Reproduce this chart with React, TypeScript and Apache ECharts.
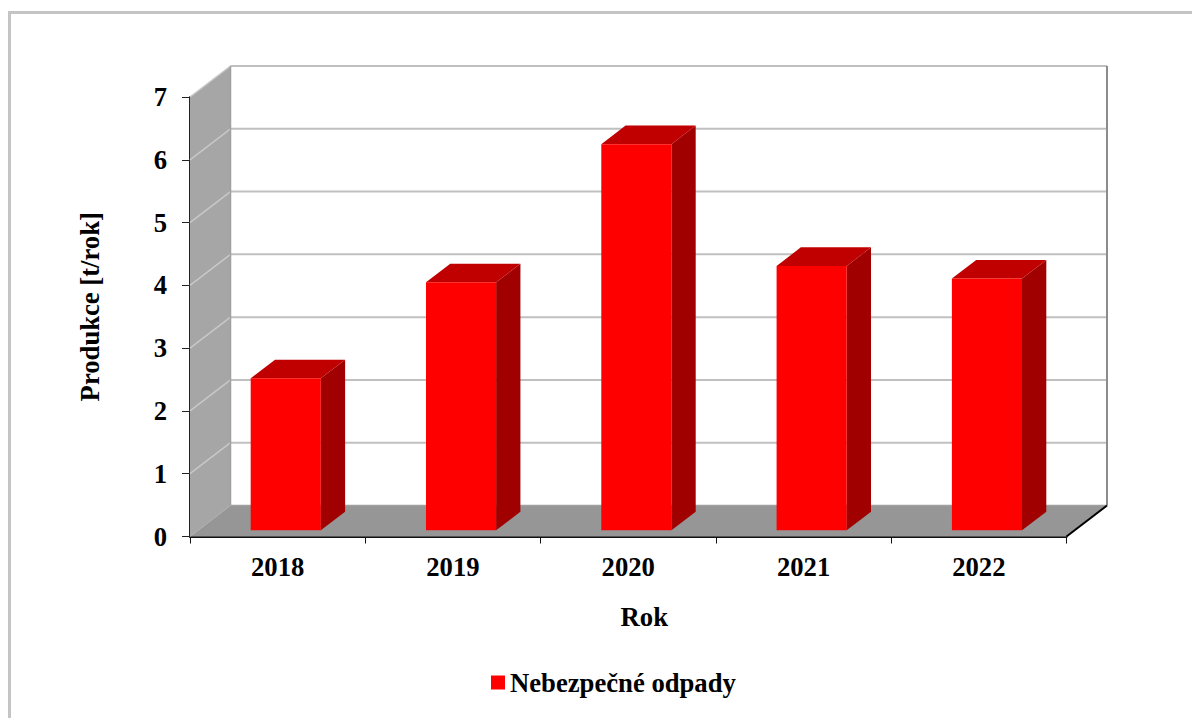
import React, { useEffect, useRef } from "react";
import * as echarts from "echarts";

const categories = ["2018", "2019", "2020", "2021", "2022"];
const seriesName = "Nebezpečné odpady";
const values = [2.42, 3.95, 6.15, 4.21, 4.01];
const yTicks = [1, 2, 3, 4, 5, 6, 7];
const wallDepth = { dx: 40.5, dy: -31 };
const FONT = "'Liberation Serif', 'Times New Roman', serif";
const SIZE = 26.67;

export default function App() {
  const ref = useRef<HTMLDivElement>(null);
  useEffect(() => {
    const chart = echarts.init(ref.current!, null, { renderer: "svg" });
    const poly = (points: number[][], fill: string, z2 = 0) => ({
      type: "polygon",
      z2,
      shape: { points },
      style: { fill, stroke: "none" },
    });
    const seg = (a: number[], b: number[], stroke: string, lineWidth: number, z2 = 1) => ({
      type: "line",
      z2,
      shape: { x1: a[0], y1: a[1], x2: b[0], y2: b[1] },
      style: { stroke, lineWidth, fill: "none" },
    });
    const { dx, dy } = wallDepth;
    chart.setOption({
      animation: false,
      backgroundColor: "#ffffff",
      graphic: [
        { type: "rect", silent: true, shape: { x: 8, y: 11, width: 1184, height: 3 }, style: { fill: "#c4c4c4" } },
        { type: "rect", silent: true, shape: { x: 8, y: 11, width: 3, height: 707 }, style: { fill: "#c4c4c4" } },
      ],
      grid: { left: 190, right: 125.5, top: 97, bottom: 181.5, containLabel: false },
      legend: {
        left: 486,
        top: 664,
        itemWidth: 14,
        itemHeight: 14,
        itemGap: 5,
        data: [{ name: seriesName, icon: "rect", itemStyle: { color: "#ff0000" } }],
        textStyle: { fontFamily: FONT, fontWeight: "bold", fontSize: SIZE, color: "#000", padding: [0, 0, 0, 0] },
      },
      xAxis: {
        type: "category",
        data: categories,
        name: "Rok",
        nameLocation: "middle",
        nameGap: 67,
        nameTextStyle: { fontFamily: FONT, fontWeight: "bold", fontSize: SIZE, color: "#000", padding: [0, 0, 0, 32] },
        axisLine: { lineStyle: { color: "#111", width: 2 } },
        axisTick: { show: true, alignWithLabel: false, length: 7, lineStyle: { color: "#111", width: 1 } },
        axisLabel: { fontFamily: FONT, fontWeight: "bold", fontSize: SIZE, color: "#000", margin: 17 },
        splitLine: { show: false },
      },
      yAxis: {
        type: "value",
        min: 0,
        max: 7,
        interval: 1,
        name: "Produkce [t/rok]",
        nameLocation: "middle",
        nameGap: 87,
        nameRotate: 90,
        nameTextStyle: { fontFamily: FONT, fontWeight: "bold", fontSize: SIZE, color: "#000", padding: [0, 0, 0, 20] },
        axisLine: { show: true, lineStyle: { color: "#222", width: 2 } },
        axisTick: { show: true, length: 8, lineStyle: { color: "#222", width: 1 } },
        axisLabel: { fontFamily: FONT, fontWeight: "bold", fontSize: SIZE, color: "#000", margin: 23 },
        splitLine: { show: false },
      },
      series: [
        {
          type: "custom",
          name: "walls",
          silent: true,
          z: 1,
          data: [[0]],
          renderItem: (_p: any, api: any) => {
            const x0 = api.coord([0, 0])[0] - api.size([1, 0])[0] / 2;
            const x1 = x0 + api.size([1, 0])[0] * categories.length;
            const y0 = api.coord([0, 0])[1];
            const y7 = api.coord([0, 7])[1];
            const children: any[] = [
              poly([[x0, y0], [x0 + dx, y0 + dy], [x0 + dx, y7 + dy], [x0, y7]], "#a6a6a6"),
              poly([[x0, y0], [x1, y0], [x1 + dx, y0 + dy], [x0 + dx, y0 + dy]], "#969696"),
            ];
            yTicks.forEach((t) => {
              const y = api.coord([0, t])[1];
              children.push(seg([x0, y], [x0 + dx, y + dy], "#c8c8c8", 1.5));
              children.push(seg([x0 + dx, y + dy], [x1 + dx, y + dy], "#c0c0c0", 2));
            });
            children.push(seg([x0 + dx, y7 + dy], [x0 + dx, y0 + dy], "#a0a0a0", 1.5));
            children.push(seg([x1 + dx, y7 + dy], [x1 + dx, y0 + dy], "#8c8c8c", 2));
            children.push(seg([x0 + dx, y0 + dy], [x1 + dx, y0 + dy], "#a0a0a0", 1.5));
            children.push(seg([x0, y0], [x0 + dx, y0 + dy], "#b0b0b0", 1));
            children.push(seg([x1, y0], [x1 + dx, y0 + dy], "#000000", 2));
            return { type: "group", children };
          },
        },
        {
          type: "custom",
          name: seriesName,
          silent: true,
          z: 2,
          itemStyle: { color: "#ff0000" },
          encode: { x: 0, y: 1 },
          data: categories.map((c, i) => [c, values[i]]),
          renderItem: (_p: any, api: any) => {
            const band = api.size([1, 0])[0];
            const top = api.coord([api.value(0), api.value(1)]);
            const base = api.coord([api.value(0), 0]);
            const w = band * 0.4;
            const ox = dx * 0.2;
            const oy = dy * 0.2;
            const l = top[0] + ox - w / 2;
            const r = l + w;
            const t = top[1] + oy;
            const b = base[1] + oy;
            const ddx = dx * 0.6;
            const ddy = dy * 0.6;
            return {
              type: "group",
              children: [
                poly([[r, t], [r + ddx, t + ddy], [r + ddx, b + ddy], [r, b]], "#a00000"),
                poly([[l, t], [l + ddx, t + ddy], [r + ddx, t + ddy], [r, t]], "#c00000"),
                poly([[l, t], [r, t], [r, b], [l, b]], "#ff0000"),
              ],
            };
          },
        },
      ],
    });
    return () => chart.dispose();
  }, []);
  return <div ref={ref} style={{ position: "fixed", left: 0, top: 0, width: 1192, height: 718 }} />;
}
